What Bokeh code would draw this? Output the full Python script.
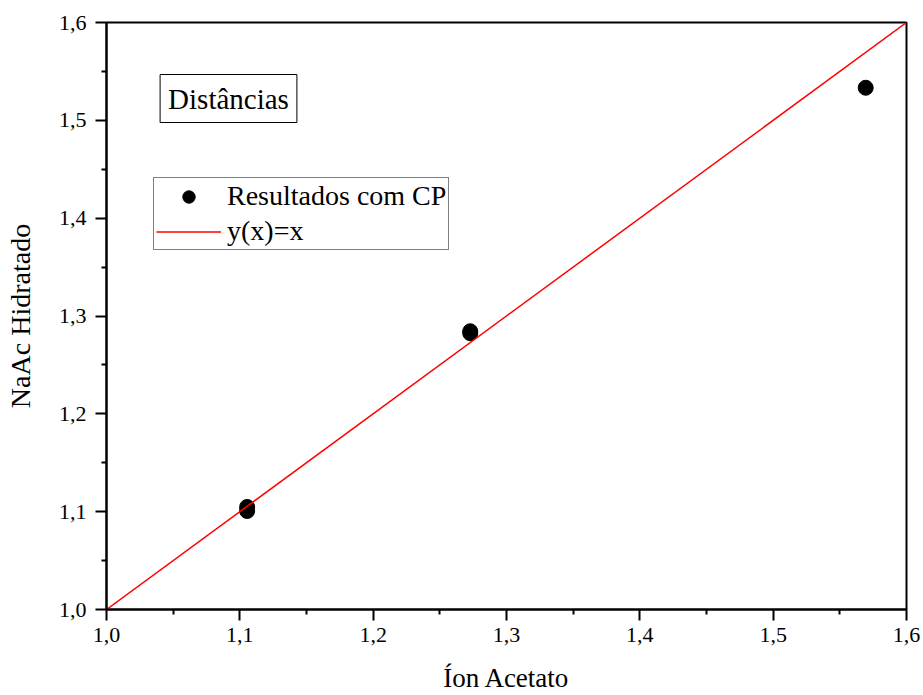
from bokeh.plotting import figure
from bokeh.models import Range1d, FixedTicker, Legend, LegendItem, Label
from bokeh.embed import file_html
from bokeh.resources import INLINE

# Data
ion_acetato = [1.1055, 1.1055, 1.2728, 1.2728, 1.5694]
naac_hidratado = [1.1007, 1.1048, 1.2824, 1.2844, 1.5333]
line_x = [1.0, 1.6]
line_y = [1.0, 1.6]
tick_values = [1.0, 1.1, 1.2, 1.3, 1.4, 1.5, 1.6]
tick_labels = ["1,0", "1,1", "1,2", "1,3", "1,4", "1,5", "1,6"]
minor_values = [1.05, 1.15, 1.25, 1.35, 1.45, 1.55]

FONT = "Liberation Serif"

p = figure(width=923, height=695, output_backend="svg", toolbar_location=None,
           x_range=Range1d(1.0, 1.6), y_range=Range1d(1.0, 1.6),
           min_border_left=106, min_border_right=17, min_border_top=22, min_border_bottom=86)
p.background_fill_color = "white"
p.border_fill_color = "white"
p.outline_line_color = "black"
p.outline_line_width = 2
p.xgrid.visible = False
p.ygrid.visible = False

for ax in (p.xaxis[0], p.yaxis[0]):
    ax.ticker = FixedTicker(ticks=tick_values, minor_ticks=minor_values)
    ax.major_label_overrides = {v: l for v, l in zip(tick_values, tick_labels)}
    ax.axis_line_width = 2
    ax.major_tick_line_width = 2
    ax.minor_tick_line_width = 2
    ax.major_tick_out = 11
    ax.major_tick_in = 0
    ax.minor_tick_out = 5
    ax.minor_tick_in = 0
    ax.major_label_text_font = FONT
    ax.major_label_text_font_size = "22px"
    ax.major_label_text_color = "black"
    ax.axis_label_text_font = FONT
    ax.axis_label_text_font_style = "normal"
    ax.axis_label_text_color = "black"

p.xaxis.axis_label = "Íon Acetato"
p.yaxis.axis_label = "NaAc Hidratado"
p.xaxis.axis_label_text_font_size = "27px"
p.yaxis.axis_label_text_font_size = "28px"
p.xaxis.major_label_standoff = 7
p.yaxis.major_label_standoff = 9
p.xaxis.axis_label_standoff = 18
p.yaxis.axis_label_standoff = 20

r_pts = p.scatter(ion_acetato, naac_hidratado, size=15, color="black", marker="circle")
r_line = p.line(line_x, line_y, line_color="#ff0000", line_width=1.5)

legend = Legend(items=[LegendItem(label="Resultados com CP", renderers=[r_pts]),
                       LegendItem(label="y(x)=x", renderers=[r_line])],
                location=(47, 359))
legend.label_text_font = FONT
legend.label_text_font_size = "28px"
legend.label_text_color = "black"
legend.glyph_width = 65
legend.glyph_height = 31
legend.label_height = 31
legend.label_standoff = 6
legend.spacing = 3
legend.padding = 2
legend.margin = 0
legend.border_line_color = "black"
legend.border_line_width = 1
legend.background_fill_alpha = 1
p.add_layout(legend, "center")

lbl = Label(x=122, y=511, x_units="screen", y_units="screen", text="Distâncias",
            text_font=FONT, text_font_size="29px", text_color="black",
            text_align="center", text_baseline="middle",
            border_line_color="black", border_line_width=1,
            background_fill_color="white", padding=8)
p.add_layout(lbl)

open("out.html", "w").write(file_html(p, INLINE))
